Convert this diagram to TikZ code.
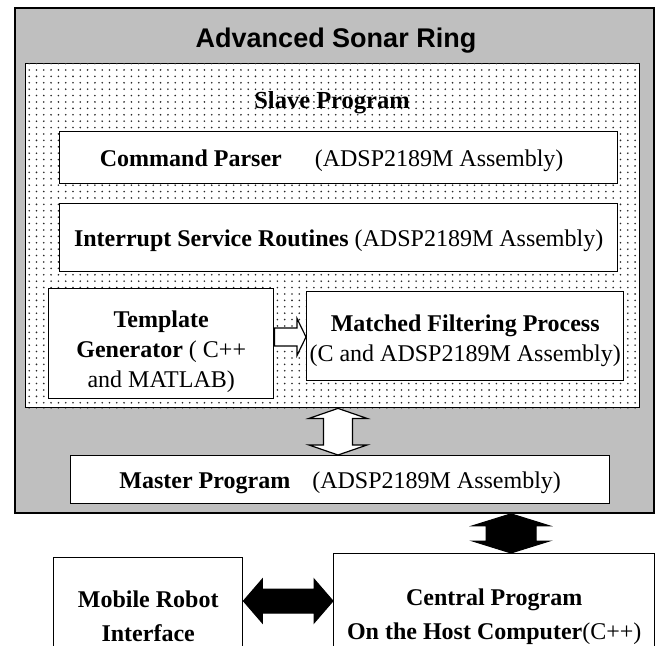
\documentclass[tikz,border=0pt]{standalone}
\usepackage{fontspec}
\setmainfont{Liberation Serif}
\newfontfamily\headfont{Liberation Sans}
\usetikzlibrary{calc,patterns}

\pgfdeclarepatternformonly{sparsedots}{\pgfqpoint{-1pt}{-1pt}}{\pgfqpoint{1pt}{1pt}}{\pgfqpoint{7.3pt}{6.4pt}}{%
	\pgfpathcircle{\pgfqpoint{0pt}{0pt}}{0.9pt}\pgfusepath{fill}}

\begin{document}
\begin{tikzpicture}[x=1pt, y=-1pt,
		box/.style={draw, line width=1.4pt, fill=white, inner sep=0pt, anchor=north west,
				font=\fontsize{24}{30}\selectfont, align=center},
		hollowblock/.style={draw, line width=1.2pt, fill=white, line join=miter},
		solidblock/.style={draw, line width=1pt, fill=black, line join=miter}]
	\useasboundingbox (0,0) rectangle (657,646);

	\node[draw, line width=1.8pt, fill=black!25, inner sep=0pt, anchor=north west,
		minimum width=639pt, minimum height=505pt] (ring) at (14,7) {};
	\node[font=\headfont\bfseries\fontsize{27}{30}\selectfont] (title) at (336,41) {Advanced Sonar Ring};

	\node[draw, line width=1.4pt, fill=white, inner sep=0pt, anchor=north west,
		minimum width=614pt, minimum height=344pt] (slave) at (25,63) {};
	\fill[pattern=sparsedots, pattern color=black!85] (slave.south west) rectangle (slave.north east);
	\node[font=\bfseries\fontsize{24.5}{28}\selectfont] (slavetitle) at (332,103) {Slave Program};

	\node[box, minimum width=558pt, minimum height=52pt, text depth=0pt] (parser) at (59,131)
		{\textbf{Command Parser}\hspace{33pt}(ADSP2189M Assembly)\hspace*{14pt}};
	\node[box, minimum width=558pt, minimum height=68pt, text depth=-3pt] (isr) at (59,203)
		{\textbf{Interrupt Service Routines} (ADSP2189M Assembly)};
	\node[box, minimum width=225pt, minimum height=110pt] (template) at (48,288)
		{\rule{0pt}{32pt}\textbf{Template}\\\textbf{Generator} ( C++\\and MATLAB)};
	\node[box, minimum width=317pt, minimum height=89pt] (matched) at (306,291)
		{\rule{0pt}{25pt}\textbf{Matched Filtering Process}\\(C and ADSP2189M Assembly)};
	\node[box, minimum width=539pt, minimum height=48pt, text depth=-6pt] (master) at (70,455)
		{\textbf{Master Program}\hspace{22pt}(ADSP2189M Assembly)};
	\node[box, minimum width=189pt, minimum height=118pt] (robot) at (53,557)
		{\textbf{Mobile Robot}\\[4pt]\textbf{Interface}};
	\node[box, minimum width=321pt, minimum height=126pt] (host) at (333,553)
		{\textbf{Central Program}\\[4pt]\textbf{On the Host Computer}(C++)};

	% block arrows
	\coordinate (tx) at (0,337);
	\coordinate (vx) at (338,0);
	\coordinate (hx) at (511,0);
	\coordinate (ay) at (0,601);

	\draw[hollowblock] ($(template.east |- tx)+(0,-9)$) -- ($(matched.west |- tx)+(-9,-9)$) -- ++(0,-9.5)
		-- (matched.west |- tx) -- ++(-9,18.5) -- ++(0,-9.5) -- ($(template.east |- tx)+(0,9)$) -- cycle;

	\draw[hollowblock] (slave.south -| vx) -- ++(29,10) -- ++(-14.5,0) -- ($(master.north -| vx)+(14.5,-10)$)
		-- ++(14.5,0) -- (master.north -| vx) -- ++(-29,-10) -- ++(14.5,0)
		-- ($(slave.south -| vx)+(-14.5,10)$) -- ++(-14.5,0) -- cycle;

	\draw[solidblock] (ring.south -| hx) -- ++(38.5,12) -- ++(-13.5,0) -- ($(host.north -| hx)+(25,-12)$)
		-- ++(13.5,0) -- (host.north -| hx) -- ++(-38.5,-12) -- ++(13.5,0)
		-- ($(ring.south -| hx)+(-25,12)$) -- ++(-13.5,0) -- cycle;

	\draw[solidblock] (robot.east |- ay) -- ++(19,-22) -- ++(0,10) -- ($(host.west |- ay)+(-19,-12)$)
		-- ++(0,-10) -- (host.west |- ay) -- ++(-19,22) -- ++(0,-10)
		-- ($(robot.east |- ay)+(19,12)$) -- ++(0,10) -- cycle;
\end{tikzpicture}
\end{document}
